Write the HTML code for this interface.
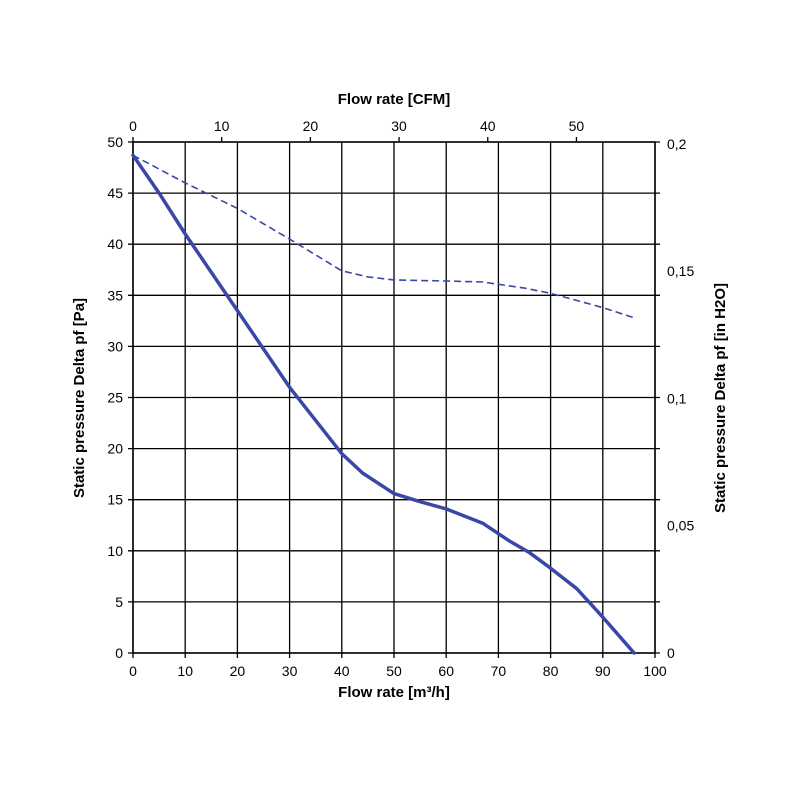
<!DOCTYPE html>
<html><head><meta charset="utf-8"><style>
body{margin:0;background:#fff;}
svg{display:block;font-family:"Liberation Sans",sans-serif;}
</style></head><body>
<svg id="chart" width="800" height="800">
<g id="grid"></g>
<g id="axes"></g>
<g id="series"></g>
<text x="394" y="104" text-anchor="middle" font-size="15" font-weight="bold">Flow rate [CFM]</text>
<text x="394" y="697" text-anchor="middle" font-size="15" font-weight="bold">Flow rate [m³/h]</text>
<text transform="translate(84,398) rotate(-90)" text-anchor="middle" font-size="15" font-weight="bold">Static pressure Delta pf [Pa]</text>
<text transform="translate(725,398) rotate(-90)" text-anchor="middle" font-size="15" font-weight="bold">Static pressure Delta pf [in H2O]</text>
</svg>
<script>
const xTicks=[0,10,20,30,40,50,60,70,80,90,100];
const yTicks=[0,5,10,15,20,25,30,35,40,45,50];
const cfmTicks=[0,10,20,30,40,50];
const inTicks=[0,0.05,0.1,0.15,0.2];
const inLabels=["0","0,05","0,1","0,15","0,2"];
const solidX=[0,5,10,20,30,40,44,47,50,55,60,64,67,72,76,80,85,90,96];
const solidY=[48.7,45,41,33.5,26,19.5,17.6,16.6,15.6,14.8,14.1,13.3,12.7,11,9.8,8.3,6.3,3.5,0];
const dashX=[0,10,20,30,40,45,50,60,67,75,80,90,96];
const dashY=[48.7,46,43.5,40.5,37.4,36.8,36.5,36.4,36.3,35.7,35.2,33.8,32.8];
const X0=133,X1=655,Y0=653,Y1=142;
const sx=v=>X0+(X1-X0)*v/100;
const sy=v=>Y0-(Y0-Y1)*v/50;
const NS="http://www.w3.org/2000/svg";
function mk(parent,tag,attrs){const e=document.createElementNS(NS,tag);for(const k in attrs)e.setAttribute(k,attrs[k]);parent.appendChild(e);return e;}
const grid=document.getElementById('grid'),axes=document.getElementById('axes'),series=document.getElementById('series');
xTicks.forEach(v=>{
 const l=mk(grid,'line',{x1:sx(v),x2:sx(v),y1:Y1,y2:Y0+5,stroke:'#000','stroke-width':1.3});
 
 
 const t=mk(axes,'text',{x:sx(v),y:Y0+23,'text-anchor':'middle','font-size':14});
 t.textContent=v;
 
 
});
yTicks.forEach(v=>{
 const l=mk(grid,'line',{x1:X0-5,x2:X1+5,y1:sy(v),y2:sy(v),stroke:'#000','stroke-width':1.3});
 
 
 const t=mk(axes,'text',{x:X0-10,y:sy(v)+5,'text-anchor':'end','font-size':14});
 t.textContent=v;
 
 
});
cfmTicks.forEach(v=>{
 const px=sx(v*1.699);
 const l=mk(axes,'line',{x1:px,x2:px,y1:Y1-5,y2:Y1,stroke:'#000','stroke-width':1.3});
 
 
 const t=mk(axes,'text',{x:px,y:Y1-11,'text-anchor':'middle','font-size':14});
 t.textContent=v;
 
 
});
inTicks.forEach((v,i)=>{
 const py=sy(v*249.1);
 const t=mk(axes,'text',{x:X1+12,y:py+5,'font-size':14});
 t.textContent=inLabels[i];
 
 
});
const frame=mk(axes,'rect',{x:X0,y:Y1,width:X1-X0,height:Y0-Y1,fill:'none',stroke:'#000','stroke-width':1.5});


function path(xs,ys){return xs.map((x,i)=>(i?'L':'M')+sx(x).toFixed(1)+','+sy(ys[i]).toFixed(1)).join(' ');}
const s=mk(series,'path',{d:path(solidX,solidY),fill:'none',stroke:'#3b47a8','stroke-width':3.5,'stroke-linejoin':'round','stroke-linecap':'round'});


const d=mk(series,'path',{d:path(dashX,dashY),fill:'none',stroke:'#3b47a8','stroke-width':1.6,'stroke-dasharray':'7,4'});


</script>
</body></html>
